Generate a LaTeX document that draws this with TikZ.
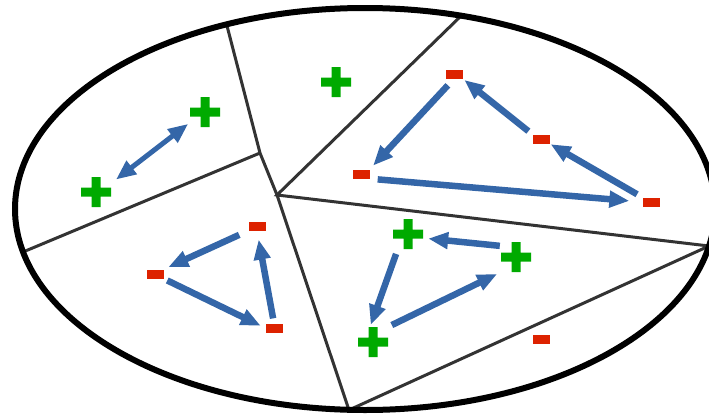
\documentclass[tikz,border=0pt]{standalone}
\usetikzlibrary{arrows.meta}
\definecolor{arrowblue}{RGB}{52,102,168}
\definecolor{plusgreen}{RGB}{0,170,0}
\definecolor{minusred}{RGB}{221,34,0}
\definecolor{wallgray}{RGB}{51,51,51}
\begin{document}
\begin{tikzpicture}[x=1pt,y=-1pt,>={Triangle[length=20pt,width=16pt]},
  plussign/.style={minimum size=30pt,inner sep=0pt,
    path picture={\fill[plusgreen] (path picture bounding box.center)
      +(-15pt,-4.5pt) rectangle +(15pt,4.5pt)
      +(-4.5pt,-15pt) rectangle +(4.5pt,15pt);}},
  minussign/.style={fill=minusred,minimum width=17pt,minimum height=9pt,inner sep=0pt},
  wall/.style={draw=wallgray,line width=3pt},
  flow/.style={draw=arrowblue,line width=6.5pt}]
  \clip (0,0) rectangle (709,415);
  \coordinate (hub) at (277,195);
  \coordinate (knee) at (260,153);
  \coordinate (foot) at (349,410);
  \coordinate (rim) at (709,246);
  \draw[wall] (226,22) -- (knee) -- (hub) -- (foot) -- (rim);
  \draw[wall] (23,252) -- (knee);
  \draw[wall] (463,14) -- (hub) -- (rim);
  \draw[line width=6pt] (365,209) ellipse [x radius=350pt,y radius=201pt];

  \node[plussign] (nw1) at (96,192) {};
  \node[plussign] (nw2) at (205,112) {};
  \node[plussign] (top) at (336,82) {};
  \node[minussign] (ne1) at (454,74) {};
  \node[minussign] (ne2) at (541,139) {};
  \node[minussign] (ne3) at (361,174) {};
  \node[minussign] (ne4) at (651,202) {};
  \node[minussign] (sw1) at (257,226) {};
  \node[minussign] (sw2) at (155,274) {};
  \node[minussign] (sw3) at (274,328) {};
  \node[plussign] (s1) at (408,234) {};
  \node[plussign] (s2) at (516,257) {};
  \node[plussign] (s3) at (373,342) {};
  \node[minussign] (se) at (541,339) {};

  \draw[flow,line width=5pt,<->,shorten <=6pt,shorten >=2pt] (nw1.30) -- (nw2.215);
  \draw[flow,->,shorten <=9pt,shorten >=5pt] (ne1.south) -- (ne3.north east);
  \draw[flow,->,shorten <=5pt,shorten >=2pt] (ne2.north west) -- (ne1.south east);
  \draw[flow,->,shorten <=6pt,shorten >=1pt] (ne4.north west) -- (ne2.south east);
  \draw[flow,->,shorten <=8pt,shorten >=13pt] (ne3.south east) -- (ne4.west);
  \draw[flow,->,shorten <=10pt,shorten >=5pt] (sw1.south west) -- (sw2.north east);
  \draw[flow,->,shorten <=4pt,shorten >=5pt] (sw2.south east) -- (sw3.west);
  \draw[flow,->,shorten <=5pt,shorten >=9pt] (sw3.north) -- (sw1.south);
  \draw[flow,->,shorten <=1pt,shorten >=5pt] (s2.144) -- (s1.-15);
  \draw[flow,->,shorten <=5pt,shorten >=2pt] (s1.236) -- (s3.101);
  \draw[flow,->,shorten <=4pt,shorten >=4pt] (s3.north east) -- (s2.south west);
\end{tikzpicture}
\end{document}
